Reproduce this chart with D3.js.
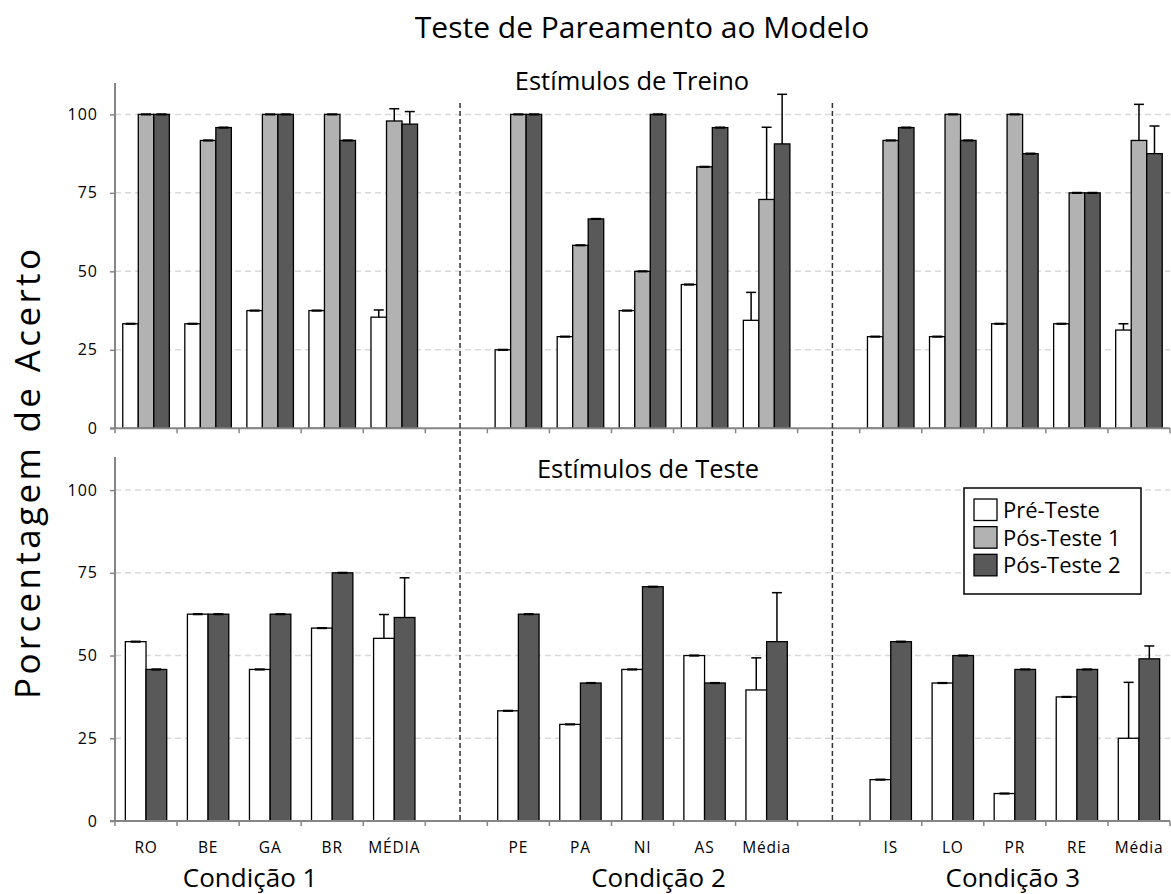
<!DOCTYPE html>
<html>
<head>
<meta charset="utf-8">
<script src="https://cdn.jsdelivr.net/npm/d3@7"></script>
<style>
  body { margin: 0; background: #fff; }
  text { font-family: "Open Sans", sans-serif; fill: #000; }
</style>
</head>
<body>
<svg id="chart" width="1171" height="894"></svg>
<script>
// ---- data ----
const seriesNames = ["Pré-Teste", "Pós-Teste 1", "Pós-Teste 2"];
const conditions = ["Condição 1", "Condição 2", "Condição 3"];
const stimuli = [
  ["RO", "BE", "GA", "BR", "MÉDIA"],
  ["PE", "PA", "NI", "AS", "Média"],
  ["IS", "LO", "PR", "RE", "Média"]
];
const yTicks = [0, 25, 50, 75, 100];

// Training stimuli (percent correct), 15 values: 3 conditions x 5 stimuli
const treinoPre   = [33.3, 33.3, 37.5, 37.5, 35.4,  25.0, 29.2, 37.5, 45.8, 34.4,  29.2, 29.2, 33.3, 33.3, 31.3];
const treinoPos1  = [100, 91.7, 100, 100, 97.9,  100, 58.3, 50.0, 83.3, 72.9,  91.7, 100, 100, 75.0, 91.7];
const treinoPos2  = [100, 95.8, 100, 91.7, 96.9,  100, 66.7, 100, 95.8, 90.6,  95.8, 91.7, 87.5, 75.0, 87.5];
const treinoPreErr  = [0, 0, 0, 0, 2.3,  0, 0, 0, 0, 8.9,  0, 0, 0, 0, 2.0];
const treinoPos1Err = [0, 0, 0, 0, 3.9,  0, 0, 0, 0, 23.0, 0, 0, 0, 0, 11.5];
const treinoPos2Err = [0, 0, 0, 0, 4.0,  0, 0, 0, 0, 15.8, 0, 0, 0, 0, 8.8];

// Test stimuli (percent correct)
const testePre   = [54.2, 62.5, 45.8, 58.3, 55.2,  33.3, 29.2, 45.8, 50.0, 39.6,  12.5, 41.7, 8.3, 37.5, 25.0];
const testePos2  = [45.8, 62.5, 62.5, 75.0, 61.5,  62.5, 41.7, 70.8, 41.7, 54.2,  54.2, 50.0, 45.8, 45.8, 49.0];
const testePreErr  = [0, 0, 0, 0, 7.2,  0, 0, 0, 0, 9.7,  0, 0, 0, 0, 16.9];
const testePos2Err = [0, 0, 0, 0, 12.0, 0, 0, 0, 0, 14.8, 0, 0, 0, 0, 3.9];

// ---- layout ----
const colors = { "Pré-Teste": "#ffffff", "Pós-Teste 1": "#b2b2b2", "Pós-Teste 2": "#595959" };
const axisColor = "#868686";
const svg = d3.select("#chart");

// category slots, with an empty slot between conditions
const slots = [];
conditions.forEach((c, ci) => {
  stimuli[ci].forEach((s, si) => slots.push({ id: `c${ci}s${si}`, label: s, ci, si, idx: ci * 5 + si }));
  if (ci < conditions.length - 1) slots.push({ id: `gap${ci}`, label: "", gap: true });
});
const stimSlots = slots.filter(d => !d.gap);

const x = d3.scaleBand().domain(slots.map(d => d.id)).range([115, 1170]).padding(0);

const panels = [
  {
    title: "Estímulos de Treino", titleX: 632, titleY: 90,
    y: d3.scaleLinear().domain([0, 110]).range([428.3, 83]),
    series: [
      { name: "Pré-Teste", values: treinoPre, errs: treinoPreErr },
      { name: "Pós-Teste 1", values: treinoPos1, errs: treinoPos1Err },
      { name: "Pós-Teste 2", values: treinoPos2, errs: treinoPos2Err }
    ],
    labels: false
  },
  {
    title: "Estímulos de Teste", titleX: 648, titleY: 478,
    y: d3.scaleLinear().domain([0, 110]).range([821, 457]),
    series: [
      { name: "Pré-Teste", values: testePre, errs: testePreErr },
      { name: "Pós-Teste 2", values: testePos2, errs: testePos2Err }
    ],
    labels: true
  }
];

panels.forEach(p => {
  const y = p.y;
  const g = svg.append("g");
  const x0 = x.range()[0], x1 = x.range()[1];

  // gridlines
  g.selectAll("line.grid").data(yTicks.filter(t => t > 0)).join("line")
    .attr("x1", x0).attr("x2", x1)
    .attr("y1", d => y(d)).attr("y2", d => y(d))
    .attr("stroke", "#d9d9d9").attr("stroke-width", 1.5).attr("stroke-dasharray", "6,4");

  // y axis
  const yAxis = g.append("g").attr("transform", `translate(${x0},0)`)
    .call(d3.axisLeft(y).tickValues(yTicks).tickSize(5).tickPadding(12));
  yAxis.select(".domain").attr("stroke", axisColor).attr("stroke-width", 2)
    .attr("d", `M0,${y(0)}V${y(110)}`);
  yAxis.selectAll(".tick line").attr("stroke", axisColor).attr("stroke-width", 1.5);
  yAxis.selectAll(".tick text").attr("font-size", 16).attr("letter-spacing", 1)
    .attr("font-family", "Open Sans").attr("fill", "#000");

  // bars
  const inner = d3.scaleBand().domain(p.series.map(s => s.name))
    .range([0, x.bandwidth()]).paddingInner(0).paddingOuter(0.5);

  p.series.forEach(s => {
    const rows = stimSlots.map(d => ({ slot: d, v: s.values[d.idx], e: s.errs[d.idx] }));
    const bx = d => x(d.slot.id) + inner(s.name);
    g.append("g").selectAll("rect").data(rows).join("rect")
      .attr("x", bx).attr("width", inner.bandwidth())
      .attr("y", d => y(d.v)).attr("height", d => y(0) - y(d.v))
      .attr("fill", colors[s.name]).attr("stroke", "#000").attr("stroke-width", 1.3);

    // error bars (upper only)
    const eb = g.append("g").attr("stroke", "#000").attr("stroke-width", 1.5);
    const cx = d => bx(d) + inner.bandwidth() / 2;
    eb.selectAll("line.stem").data(rows.filter(d => d.e > 0)).join("line")
      .attr("x1", cx).attr("x2", cx)
      .attr("y1", d => y(d.v)).attr("y2", d => y(d.v + d.e));
    eb.selectAll("line.cap").data(rows).join("line")
      .attr("x1", d => cx(d) - 5).attr("x2", d => cx(d) + 5)
      .attr("y1", d => y(d.v + d.e)).attr("y2", d => y(d.v + d.e))
      .attr("stroke-width", d => d.e > 0 ? 1.5 : 2.2);
  });

  // x axis line and boundary ticks
  g.append("line").attr("x1", x0 - 5).attr("x2", x1)
    .attr("y1", y(0)).attr("y2", y(0))
    .attr("stroke", axisColor).attr("stroke-width", 2);
  const bounds = slots.map(d => x(d.id)).concat([x1]);
  g.selectAll("line.xt").data(bounds).join("line")
    .attr("x1", d => d).attr("x2", d => d)
    .attr("y1", y(0)).attr("y2", y(0) + 5)
    .attr("stroke", axisColor).attr("stroke-width", 1.5);

  if (p.labels) {
    const xAxis = g.append("g").attr("transform", `translate(0,${y(0)})`)
      .call(d3.axisBottom(x).tickSize(0).tickPadding(21).tickFormat(id => slots.find(s => s.id === id).label));
    xAxis.select(".domain").remove();
    xAxis.selectAll(".tick text").attr("font-size", 15.5).attr("letter-spacing", 0.8)
      .attr("font-family", "Open Sans").attr("fill", "#000");
  }

  // panel title
  svg.append("text").attr("x", p.titleX).attr("y", p.titleY)
    .attr("text-anchor", "middle").attr("font-size", 25.5).text(p.title);
});

// dashed separators between conditions
svg.selectAll("line.sep").data(slots.filter(d => d.gap)).join("line")
  .attr("x1", d => x(d.id) + x.bandwidth() * 0.56).attr("x2", d => x(d.id) + x.bandwidth() * 0.56)
  .attr("y1", 103).attr("y2", 821)
  .attr("stroke", "#333").attr("stroke-width", 1.5).attr("stroke-dasharray", "5,3");

// condition labels
const condShift = [-20, 16, -2];
conditions.forEach((c, ci) => {
  const mid = `c${ci}s2`;
  svg.append("text")
    .attr("x", x(mid) + x.bandwidth() / 2 + condShift[ci]).attr("y", 887)
    .attr("text-anchor", "middle").attr("font-size", 26).text(c);
});

// main title
svg.append("text").attr("x", 642).attr("y", 38)
  .attr("text-anchor", "middle").attr("font-size", 30).text("Teste de Pareamento ao Modelo");

// y axis title
svg.append("text").attr("transform", "translate(40,474) rotate(-90)")
  .attr("text-anchor", "middle").attr("font-size", 35)
  .attr("textLength", 450).attr("lengthAdjust", "spacing").text("Porcentagem de Acerto");

// legend
const leg = svg.append("g").attr("transform", "translate(964,488)");
leg.append("rect").attr("width", 177).attr("height", 106)
  .attr("fill", "#fff").attr("stroke", "#000").attr("stroke-width", 1.5);
const legRow = d3.scaleBand().domain(seriesNames).range([11, 94]);
const items = leg.selectAll("g.item").data(seriesNames).join("g")
  .attr("transform", d => `translate(10,${legRow(d)})`);
items.append("rect").attr("width", 23).attr("height", 21.5)
  .attr("fill", d => colors[d]).attr("stroke", "#000").attr("stroke-width", 1.3);
items.append("text").attr("x", 29).attr("y", 19).attr("font-size", 22).text(d => d);
</script>
</body>
</html>
